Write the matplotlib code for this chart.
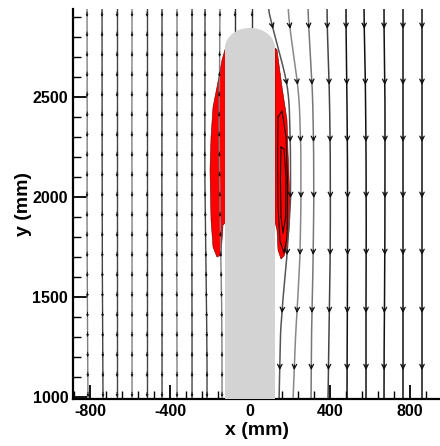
import numpy as np
import matplotlib.pyplot as plt
from matplotlib.patches import Polygon, Rectangle, Ellipse

plt.rcParams['font.family'] = ['Liberation Sans', 'DejaVu Sans']
plt.rcParams['axes.unicode_minus'] = False

# ---- data (mm) ----
# cylinder
cyl_radius = 125
cap_base = 2745
cap_top = 2845

# left streamlines: x at the heights in y_left
y_left = [2940, 2700, 2400, 2100, 1800, 1500, 1200, 990]
left_lines = [
    [-815, -815, -814, -815, -815, -813, -812, -810],
    [-740, -740, -740, -739, -739, -738, -736, -735],
    [-665, -665, -665, -665, -665, -665, -665, -665],
    [-590, -590, -591, -590, -590, -590, -590, -590],
    [-515, -515, -515, -515, -515, -515, -515, -515],
    [-440, -440, -440, -441, -440, -440, -440, -440],
    [-365, -365, -365, -365, -366, -366, -365, -365],
    [-290, -290, -290, -290, -291, -290, -290, -290],
    [-225, -225, -226, -226, -222, -218, -215, -215],
    [-150, -152, -155, -152, -148, -142, -140, -140],
]
# short lines that stop on the cap
cap_lines_x = [-75, 10]
cap_lines_end = [2825, 2845]
left_arrow_y = [2900, 2800, 2700, 2600, 2500, 2400, 2300, 2200, 2100, 2000,
                1900, 1800, 1700, 1600, 1500, 1400, 1300, 1200, 1100, 1000]

# right streamlines: x at the heights in y_right
y_right = [2945, 2860, 2795, 2710, 2625, 2545, 2460, 2250, 1985, 1710, 1530, 1335, 990]
right_lines = [
    [90, 110, 127, 150, 172, 188, 196, 202, 203, 185, 168, 153, 145],
    [190, 198, 206, 218, 230, 240, 247, 254, 255, 250, 241, 229, 215],
    [290, 293, 297, 302, 307, 311, 314, 318, 319, 316, 312, 308, 305],
    [385, 386, 388, 391, 394, 396, 398, 401, 402, 401, 398, 395, 390],
    [480, 480, 481, 482, 483, 484, 485, 487, 488, 488, 487, 486, 485],
    [570, 571, 572, 574, 576, 577, 578, 580, 581, 581, 580, 580, 580],
    [670, 670, 671, 672, 673, 674, 675, 675, 675, 674, 673, 671, 670],
    [765, 765, 765, 765, 765, 765, 765, 765, 765, 765, 765, 765, 765],
    [860, 860, 860, 860, 860, 860, 860, 860, 860, 860, 860, 860, 860],
]
right_colors = ['#555555', '#888888', '#777777', '#444444', '#111111',
                '#111111', '#111111', '#111111', '#111111']
right_arrow_y = [2840, 2560, 2275, 1995, 1710, 1420, 1135]

# red zones
red_left_x = [-120, -140, -165, -185, -195, -200, -195, -185, -165, -145, -135, -120]
red_left_y = [2755, 2685, 2550, 2450, 2300, 2135, 1885, 1750, 1700, 1710, 1860, 1875]
red_right_x = [125, 135, 160, 185, 190, 200, 195, 185, 170, 155, 140, 135, 125]
red_right_y = [2745, 2735, 2550, 2385, 2220, 1970, 1835, 1750, 1705, 1690, 1735, 1835, 1875]

# recirculation loops inside the right red zone
loop1_x = [140, 160, 180, 188, 185, 170, 150, 140, 138, 140]
loop1_y = [2400, 2430, 2300, 2050, 1800, 1720, 1780, 1950, 2200, 2400]
loop2_x = [155, 170, 180, 178, 165, 155, 152, 155]
loop2_y = [2250, 2240, 2100, 1900, 1820, 1900, 2100, 2250]


def smooth_line(ys, xs, n=200, k=9):
    ys = np.asarray(ys, float)
    xs = np.asarray(xs, float)
    yf = np.linspace(ys.max(), ys.min(), n)
    xf = np.interp(yf, ys[::-1], xs[::-1])
    pad = np.pad(xf, k, mode='edge')
    xf = np.convolve(pad, np.ones(2 * k + 1) / (2 * k + 1), mode='same')[k:-k]
    return yf, xf


def add_arrows(ax, ys_line, xs_line, arrow_ys, color, scale, lw):
    ys_line = np.asarray(ys_line, float)[::-1]
    xs_line = np.asarray(xs_line, float)[::-1]
    for ya in arrow_ys:
        if ya < ys_line.min() or ya > ys_line.max():
            continue
        x1 = np.interp(ya, ys_line, xs_line)
        x0 = np.interp(ya + 25, ys_line, xs_line)
        ax.annotate('', xy=(x1, ya), xytext=(x0, ya + 25),
                    arrowprops=dict(arrowstyle='->', color=color, lw=lw,
                                    mutation_scale=scale, shrinkA=0, shrinkB=0),
                    zorder=4)


fig = plt.figure(figsize=(4.4, 4.46), dpi=100)
ax = fig.add_axes([0.166, 0.105, 0.834, 0.875])

# red zones
ax.add_patch(Polygon(np.column_stack([red_left_x, red_left_y]), closed=True,
                     facecolor='#ff0000', edgecolor='#600000', lw=0.4, zorder=1))
ax.add_patch(Polygon(np.column_stack([red_right_x, red_right_y]), closed=True,
                     facecolor='#ff0000', edgecolor='#600000', lw=0.4, zorder=1))
ax.plot(loop1_x, loop1_y, color='#200000', lw=0.8, zorder=2)
ax.plot(loop2_x, loop2_y, color='#200000', lw=0.8, zorder=2)

# left streamlines
for i, xs in enumerate(left_lines):
    c = '#444444' if i % 3 else '#808080'
    yf, xf = smooth_line(y_left, xs)
    ax.plot(xf, yf, color=c, lw=1.0, zorder=2)
    add_arrows(ax, yf, xf, left_arrow_y, '#111111', 3, 0.7)
for xc, ye in zip(cap_lines_x, cap_lines_end):
    ax.plot([xc, xc], [2940, ye], color='#333333', lw=1.0, zorder=2)
    add_arrows(ax, [2940, ye], [xc, xc], left_arrow_y, '#111111', 3, 0.7)

# right streamlines
for xs, c in zip(right_lines, right_colors):
    yf, xf = smooth_line(y_right, xs, n=300, k=6)
    ax.plot(xf, yf, color=c, lw=1.1, zorder=2)
    add_arrows(ax, yf, xf, right_arrow_y, '#111111', 8, 0.9)

# cylinder
ax.add_patch(Rectangle((-cyl_radius, 900), 2 * cyl_radius, cap_base - 900,
                       facecolor='#d3d3d3', edgecolor='none', zorder=3))
ax.add_patch(Ellipse((0, cap_base), 2 * cyl_radius, 2 * (cap_top - cap_base),
                     facecolor='#d3d3d3', edgecolor='none', zorder=3))

ax.set_xlim(-885, 950)
ax.set_ylim(990, 2940)
ax.set_xticks([-800, -400, 0, 400, 800])
ax.set_xticks(np.arange(-880, 950, 80), minor=True)
ax.set_yticks([1000, 1500, 2000, 2500])
ax.set_yticks(np.arange(1000, 2940, 100), minor=True)
ax.tick_params(which='major', direction='in', length=10, width=1.3,
               labelsize=11.5, top=False, right=False)
ax.tick_params(which='minor', direction='in', length=6, width=1.0,
               top=False, right=False)
for lab in ax.get_xticklabels() + ax.get_yticklabels():
    lab.set_fontweight('bold')
for s in ['top', 'right']:
    ax.spines[s].set_visible(False)
for s in ['left', 'bottom']:
    ax.spines[s].set_linewidth(1.6)

ax.set_xlabel('x (mm)', fontsize=14, fontweight='bold', labelpad=2)
ax.set_ylabel('y (mm)', fontsize=14, fontweight='bold', labelpad=0)

fig.savefig('out.png', dpi=100)
